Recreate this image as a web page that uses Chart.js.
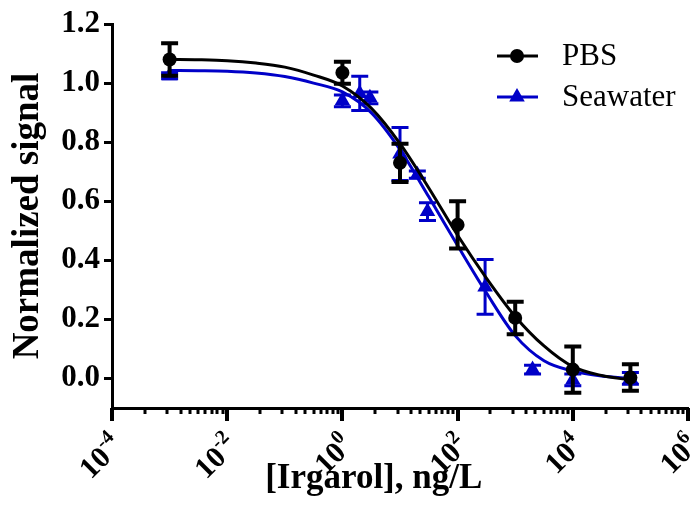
<!DOCTYPE html>
<html>
<head>
<meta charset="utf-8">
<script src="https://cdn.jsdelivr.net/npm/chart.js@4.4.1/dist/chart.umd.min.js"></script>
<style>
  html, body { margin: 0; padding: 0; background: #fff; }
</style>
</head>
<body>
<canvas id="grafico" width="691" height="508"></canvas>
<script>
// Pontos medidos (concentração em ng/L)
const pbsConc = [0.001, 1, 10, 100, 1000, 10000, 100000];
const pbsSinal = [1.08, 1.035, 0.73, 0.52, 0.205, 0.03, 0.003];
const pbsErro = [0.055, 0.037, 0.065, 0.08, 0.055, 0.078, 0.045];

const marConc = [0.001, 1, 2, 3, 10, 20, 30, 300, 2000, 10000, 100000];
const marSinal = [1.025, 0.94, 0.965, 0.95, 0.76, 0.69, 0.565, 0.31, 0.03, -0.005, 0.0];
const marErro = [0.01, 0.02, 0.058, 0.02, 0.09, 0.012, 0.03, 0.093, 0.015, 0.02, 0.02];

// Curvas ajustadas
const curvaConc = [0.001, 0.00316, 0.01, 0.0316, 0.1, 0.316, 1, 3.16, 10, 31.6, 100, 316, 1000, 3162, 10000, 31623, 100000];
const pbsCurva = [1.08, 1.079, 1.076, 1.068, 1.054, 1.027, 0.99, 0.915, 0.795, 0.645, 0.485, 0.34, 0.21, 0.11, 0.04, 0.01, -0.005];
const marCurva = [1.043, 1.042, 1.04, 1.034, 1.022, 1.0, 0.97, 0.9, 0.775, 0.615, 0.45, 0.29, 0.145, 0.06, 0.025, 0.008, 0.0];

// Eixos
const yTicks = [0, 0.2, 0.4, 0.6, 0.8, 1.0, 1.2];
const xMaiores = [1e-4, 1e-2, 1, 1e2, 1e4, 1e6];
const xExpoentes = ['-4', '-2', '0', '2', '4', '6'];
const xMenores = [3.7, 9.1, 15.5, 22.4, 31.6, 41.7, 53.7, 67.6, 83.2];

const PRETO = '#000000';
const AZUL = '#0000c8';
const SERIF = '"Liberation Serif", "Times New Roman", serif';

const pares = (xs, ys) => xs.map((x, i) => ({ x: x, y: ys[i] }));

// Barras de erro, desenhadas antes dos marcadores
const barrasErro = {
    id: 'barrasErro',
    beforeDatasetDraw(chart, args) {
        const ds = chart.data.datasets[args.index];
        if (!ds.erros) return;
        const ctx = chart.ctx;
        const y = chart.scales.y;
        ctx.save();
        ctx.strokeStyle = ds.borderColor;
        ctx.lineWidth = ds.larguraErro;
        args.meta.data.forEach((pt, i) => {
            const v = ds.data[i].y;
            const e = ds.erros[i];
            const top = y.getPixelForValue(v + e);
            const bot = y.getPixelForValue(v - e);
            const w = 8.5;
            ctx.beginPath();
            ctx.moveTo(pt.x, top);
            ctx.lineTo(pt.x, bot);
            ctx.moveTo(pt.x - w, top);
            ctx.lineTo(pt.x + w, top);
            ctx.moveTo(pt.x - w, bot);
            ctx.lineTo(pt.x + w, bot);
            ctx.stroke();
        });
        ctx.restore();
    }
};

// Marcas e rótulos do eixo log + legenda
const eixoXLegenda = {
    id: 'eixoXLegenda',
    afterDraw(chart) {
        const ctx = chart.ctx;
        const sx = chart.scales.x;
        const base = chart.chartArea.bottom;
        ctx.save();
        ctx.strokeStyle = PRETO;
        ctx.lineWidth = 3;
        xMaiores.slice(0, -1).forEach(b => {
            xMenores.forEach(f => {
                const p = Math.round(sx.getPixelForValue(b * f));
                ctx.beginPath();
                ctx.moveTo(p, base);
                ctx.lineTo(p, base + 6);
                ctx.stroke();
            });
        });
        ctx.lineWidth = 4;
        xMaiores.forEach(v => {
            const p = Math.round(sx.getPixelForValue(v));
            ctx.beginPath();
            ctx.moveTo(p, base);
            ctx.lineTo(p, base + 13);
            ctx.stroke();
        });

        // rótulos 10^n girados
        ctx.fillStyle = PRETO;
        xMaiores.forEach((v, i) => {
            const p = sx.getPixelForValue(v);
            ctx.save();
            ctx.translate(p + 5, base + 32);
            ctx.rotate(-Math.PI / 4);
            ctx.font = 'bold 30px ' + SERIF;
            const w10 = ctx.measureText('10').width;
            ctx.font = 'bold 20px ' + SERIF;
            const wExp = ctx.measureText(xExpoentes[i]).width;
            ctx.textBaseline = 'alphabetic';
            ctx.textAlign = 'left';
            ctx.font = 'bold 30px ' + SERIF;
            ctx.fillText('10', -(w10 + wExp), 10);
            ctx.font = 'bold 20px ' + SERIF;
            ctx.fillText(xExpoentes[i], -wExp, -3);
            ctx.restore();
        });

        // legenda
        const itens = chart.data.datasets.filter(d => d.legenda)
            .sort((a, b) => a.posLegenda - b.posLegenda);
        itens.forEach((d, i) => {
            const ly = 56 + i * 41;
            ctx.strokeStyle = d.borderColor;
            ctx.fillStyle = d.borderColor;
            ctx.lineWidth = 3;
            ctx.beginPath();
            ctx.moveTo(497, ly);
            ctx.lineTo(538, ly);
            ctx.stroke();
            const r = d.pointRadius;
            ctx.beginPath();
            if (d.pointStyle === 'triangle') {
                ctx.moveTo(517, ly - r);
                ctx.lineTo(517 + r * Math.sqrt(3) / 2, ly + r / 2);
                ctx.lineTo(517 - r * Math.sqrt(3) / 2, ly + r / 2);
                ctx.closePath();
            } else {
                ctx.arc(517, ly, r, 0, Math.PI * 2);
            }
            ctx.fill();
            ctx.fillStyle = PRETO;
            ctx.font = '31px ' + SERIF;
            ctx.textAlign = 'left';
            ctx.textBaseline = 'middle';
            ctx.fillText(d.legenda, 562, ly + 1);
        });
        ctx.restore();
    }
};

new Chart(document.getElementById('grafico'), {
    type: 'scatter',
    data: {
        datasets: [
            {
                data: pares(curvaConc, marCurva),
                showLine: true,
                borderColor: AZUL,
                borderWidth: 3,
                pointRadius: 0,
                cubicInterpolationMode: 'monotone',
                order: 4
            },
            {
                legenda: 'Seawater',
                posLegenda: 2,
                data: pares(marConc, marSinal),
                erros: marErro,
                larguraErro: 3,
                pointStyle: 'triangle',
                pointRadius: 9,
                backgroundColor: AZUL,
                borderColor: AZUL,
                borderWidth: 0,
                order: 3
            },
            {
                data: pares(curvaConc, pbsCurva),
                showLine: true,
                borderColor: PRETO,
                borderWidth: 3,
                pointRadius: 0,
                cubicInterpolationMode: 'monotone',
                order: 2
            },
            {
                legenda: 'PBS',
                posLegenda: 1,
                data: pares(pbsConc, pbsSinal),
                erros: pbsErro,
                larguraErro: 4,
                pointStyle: 'circle',
                pointRadius: 7,
                backgroundColor: PRETO,
                borderColor: PRETO,
                borderWidth: 0,
                order: 1
            }
        ]
    },
    options: {
        responsive: false,
        animation: false,
        layout: { autoPadding: false, padding: { top: 24, right: 3, left: 0, bottom: 0 } },
        plugins: {
            legend: { display: false },
            tooltip: { enabled: false }
        },
        scales: {
            x: {
                type: 'logarithmic',
                min: 1e-4,
                max: 1e6,
                ticks: { display: false },
                grid: { display: false },
                border: { display: true, color: PRETO, width: 3 },
                title: {
                    display: true,
                    // espaços no fim deslocam o título para a esquerda, como no original
                    text: '[Irgarol], ng/L      ',
                    color: PRETO,
                    font: { family: SERIF, size: 35, weight: 'bold' },
                    padding: { top: 0, bottom: 8 }
                },
                afterFit(scale) {
                    scale.height = 100;
                    scale.paddingLeft = 0;
                    scale.paddingRight = 0;
                }
            },
            y: {
                type: 'linear',
                min: -0.1,
                max: 1.2,
                afterBuildTicks(scale) {
                    scale.ticks = yTicks.map(v => ({ value: v }));
                },
                ticks: {
                    color: PRETO,
                    padding: 4,
                    font: { family: SERIF, size: 31, weight: 'bold' },
                    callback: v => Number(v).toFixed(1)
                },
                grid: {
                    drawOnChartArea: false,
                    drawTicks: true,
                    tickLength: 8,
                    tickWidth: 3,
                    tickColor: PRETO
                },
                border: { display: true, color: PRETO, width: 3 },
                title: {
                    display: true,
                    text: 'Normalized signal',
                    color: PRETO,
                    font: { family: SERIF, size: 37, weight: 'bold' },
                    padding: { top: 6, bottom: 0 }
                },
                afterFit(scale) {
                    scale.width = 112;
                    scale.paddingTop = 0;
                    scale.paddingBottom = 0;
                }
            }
        }
    },
    plugins: [barrasErro, eixoXLegenda]
});
</script>
</body>
</html>
